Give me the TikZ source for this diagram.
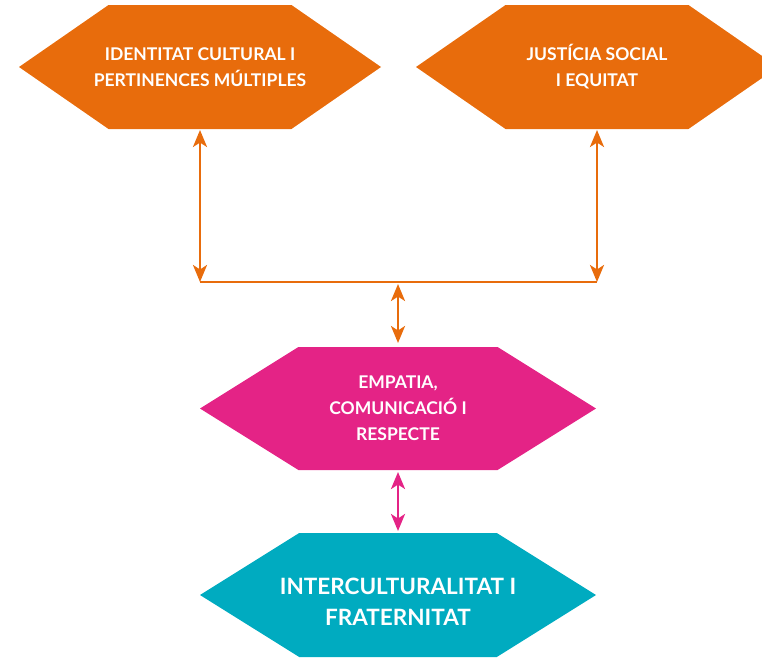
\documentclass[tikz,border=0pt]{standalone}
\usepackage{fontspec}
\setmainfont{Lato}
\usetikzlibrary{shapes.symbols,arrows.meta}
\definecolor{taronja}{RGB}{232,108,12}
\definecolor{rosa}{RGB}{228,35,134}
\definecolor{turquesa}{RGB}{0,171,192}
\tikzset{
  hexa/.style={signal, signal to=east and west, draw=none, text=white,
    align=center, inner ysep=0pt, inner xsep=-40pt, outer sep=0pt,
    font=\bfseries\fontsize{17.5}{26}\selectfont},
  fletxa/.style={>={Stealth[length=17pt,width=14pt,inset=4.5pt]}, <->,
    line width=2.8pt}
}
\begin{document}
\begin{tikzpicture}[x=1pt,y=-1pt]
  \useasboundingbox (0,0) rectangle (762,659);
  \node[hexa, fill=taronja, minimum width=362pt, minimum height=124pt, signal pointer angle=69.4]
    (identitat) at (200,67) {IDENTITAT CULTURAL I\\PERTINENCES MÚLTIPLES};
  \node[hexa, fill=taronja, minimum width=362pt, minimum height=124pt, signal pointer angle=69.4]
    (justicia) at (597,67) {JUSTÍCIA SOCIAL\\I EQUITAT};
  \node[hexa, fill=rosa, minimum width=396pt, minimum height=123pt, signal pointer angle=64]
    (empatia) at (398,408.5) {EMPATIA,\\COMUNICACIÓ I\\RESPECTE};
  \node[hexa, fill=turquesa, minimum width=396pt, minimum height=124pt, signal pointer angle=64,
    label={[text=white, align=center, yshift=-7pt,
      font=\bfseries\fontsize{22.5}{31}\selectfont]center:INTERCULTURALITAT I\\FRATERNITAT}]
    (inter) at (398,595) {};
  \coordinate (jl) at (200,282);
  \coordinate (jm) at (398,282);
  \coordinate (jr) at (597,282);
  \begin{scope}[taronja]
    \draw[fletxa, shorten <=1pt] (identitat.south) -- (jl);
    \draw[fletxa, shorten <=1pt] (justicia.south) -- (jr);
    \draw[line width=2.8pt] (jl) -- (jr);
    \draw[fletxa, shorten <=2pt, shorten >=4pt] (jm) -- (empatia.north);
  \end{scope}
  \draw[fletxa, rosa, shorten <=2pt, shorten >=2pt] (empatia.south) -- (inter.north);
\end{tikzpicture}
\end{document}
